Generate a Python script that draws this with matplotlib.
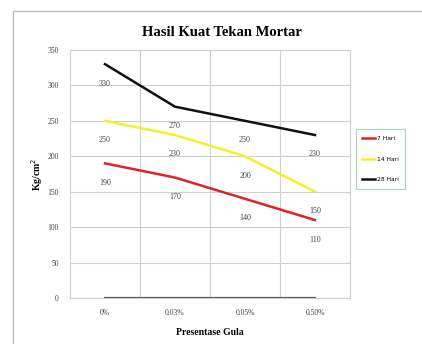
import matplotlib.pyplot as plt
from matplotlib.patches import Rectangle

categories = ["0%", "0.03%", "0.05%", "0.50%"]
hari_7 = [190, 170, 140, 110]
hari_14 = [250, 230, 200, 150]
hari_28 = [330, 270, 250, 230]
baseline = [0, 0, 0, 0]

serif = "Liberation Serif"

fig = plt.figure(figsize=(4.22, 3.44), dpi=100)
fig.patch.set_facecolor("white")

# outer chart frame
fig.patches.append(Rectangle((13 / 422, -0.1), 1.2, 1 - 11 / 344 + 0.1,
                             transform=fig.transFigure, fill=False,
                             edgecolor="#bdbdbd", linewidth=1.0))

ax = fig.add_axes([70 / 422, 1 - 298 / 344, 280 / 422, 248 / 344])
x = list(range(len(categories)))

ax.plot(x, baseline, color="#555555", linewidth=1.6)
ax.plot(x, hari_7, color="#e0202a", linewidth=1.8, label="7 Hari")
ax.plot(x, hari_14, color="#f5f02a", linewidth=1.8, label="14 Hari")
ax.plot(x, hari_28, color="#111111", linewidth=1.8, label="28 Hari")

for series in (hari_7, hari_14, hari_28):
    for xi, v in zip(x, series):
        ax.annotate(str(v), (xi, v), xytext=(0, -14), textcoords="offset points",
                    ha="center", va="center", fontsize=5.8, family=serif,
                    color="#444444")

ax.set_xlim(-0.5, 3.5)
ax.set_ylim(0, 350)
ax.set_yticks(range(0, 351, 50))
ax.set_xticks(x)
ax.set_xticklabels(categories)
ax.set_xticks([0.5, 1.5, 2.5], minor=True)
ax.grid(axis="y", color="#d0d0d0", linewidth=0.8)
ax.grid(axis="x", which="minor", color="#d0d0d0", linewidth=0.8)
ax.tick_params(which="both", length=0, labelsize=5.5, colors="#444444", pad=8)
for lbl in ax.get_xticklabels() + ax.get_yticklabels():
    lbl.set_family(serif)
for spine in ax.spines.values():
    spine.set_color("#d0d0d0")
    spine.set_linewidth(0.8)

fig.text(222 / 422, 1 - 33 / 344, "Hasil Kuat Tekan Mortar", ha="center",
         va="center", fontsize=10.5, fontweight="bold", family=serif)
ax.set_xlabel("Presentase Gula", fontsize=7, fontweight="bold", family=serif,
              labelpad=8)
ax.set_ylabel("Kg/cm$^2$", fontsize=7, fontweight="bold", family=serif,
              labelpad=2)

leg = ax.legend(loc="center left", bbox_to_anchor=(1.01, 0.56), fontsize=4.3,
                frameon=True, fancybox=False, handlelength=2.2,
                labelspacing=2.6, borderpad=1.1, handletextpad=0.2)
leg.get_frame().set_edgecolor("#8fcfa8")
leg.get_frame().set_linewidth(0.8)

fig.savefig("out.png", dpi=100)
